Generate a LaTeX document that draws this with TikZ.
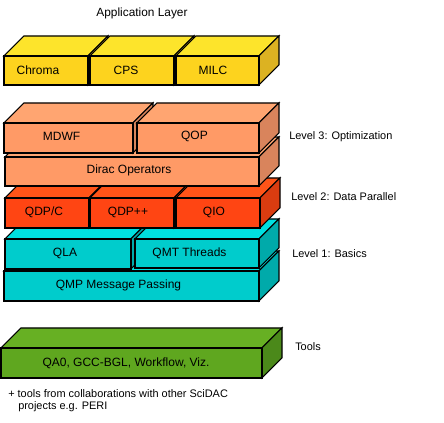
\documentclass[tikz,border=0pt]{standalone}
\usepackage{fontspec}
\setmainfont{Liberation Sans}
\definecolor{yelF}{HTML}{FDD31E}
\definecolor{yelT}{HTML}{FDE42B}
\definecolor{yelS}{HTML}{DCB222}
\definecolor{orgF}{HTML}{FF9A66}
\definecolor{orgT}{HTML}{FFA571}
\definecolor{orgS}{HTML}{D9845C}
\definecolor{redF}{HTML}{FF4513}
\definecolor{redT}{HTML}{FF5418}
\definecolor{redS}{HTML}{DA3C10}
\definecolor{cyaF}{HTML}{00CCCC}
\definecolor{cyaT}{HTML}{00E0E0}
\definecolor{cyaS}{HTML}{00AAAA}
\definecolor{grnF}{HTML}{5FA71F}
\definecolor{grnT}{HTML}{67B023}
\definecolor{grnS}{HTML}{4B891A}
\tikzset{
  edge/.style={draw=black,line width=0.8pt,line join=miter},
  lbl/.style={font=\fontsize{9}{10}\selectfont,inner sep=0pt},
  side/.style={font=\fontsize{8.2}{9}\selectfont,inner sep=0pt,anchor=west}
}
\newcommand\layerbox[5]{%
  \filldraw[edge,fill=#5T] (#1,#2) -- (#1+20,#2-20) -- (#3+20,#2-20) -- (#3,#2) -- cycle;
  \filldraw[edge,fill=#5S] (#3,#2) -- (#3+20,#2-20) -- (#3+20,#4-20) -- (#3,#4) -- cycle;
  \filldraw[edge,fill=#5F] (#1,#2) rectangle (#3,#4);
}
\begin{document}
\begin{tikzpicture}[x=0.75pt,y=-0.75pt]
\useasboundingbox (0,0) rectangle (444,423);
% title
\node[lbl,font=\fontsize{8.9}{10}\selectfont] (app) at (142,13) {Application Layer};
% application layer
\layerbox{4}{56}{88}{85}{yel}
\layerbox{90}{56}{174}{85}{yel}
\layerbox{176}{56}{259}{85}{yel}
\node[lbl] (chroma) at (38,70) {Chroma};
\node[lbl] (cps) at (126,70) {CPS};
\node[lbl] (milc) at (213,70) {MILC};
% level 1
\layerbox{4}{271}{259}{301}{cya}
\layerbox{5}{239}{131}{269}{cya}
\layerbox{135}{239}{259}{268}{cya}
\node[lbl] (qmp) at (118.5,285) {QMP Message Passing};
\node[lbl] (qla) at (65,253) {QLA};
\node[lbl] (qmt) at (189.5,253) {QMT Threads};
% level 2
\layerbox{5}{198}{89}{228}{red}
\layerbox{90}{198}{174}{228}{red}
\layerbox{176}{198}{260}{228}{red}
\node[lbl] (qdpc) at (44,212) {QDP/C};
\node[lbl] (qdppp) at (128,212) {QDP++};
\node[lbl] (qio) at (214,212) {QIO};
% level 3
\layerbox{5}{157}{259}{186}{org}
\layerbox{4}{123}{133}{153}{org}
\layerbox{137}{123}{259}{153}{org}
\node[lbl] (dirac) at (129,170) {Dirac Operators};
\node[lbl] (mdwf) at (61.5,136) {MDWF};
\node[lbl] (qop) at (194.5,136) {QOP};
% tools
\layerbox{1}{348}{262}{378}{grn}
\node[lbl] (tools) at (126,363) {QA0, GCC-BGL, Workflow, Viz.};
% side labels
\node[side] (l3) at (289,137) {Level 3: Optimization};
\node[side] (l2) at (291,197) {Level 2: Data Parallel};
\node[side] (l1) at (292,254) {Level 1: Basics};
\node[side] (tl) at (295,347) {Tools};
\node[side,anchor=north west,align=left] (note) at (8,389) {+ tools from collaborations with other SciDAC\\\hspace*{7.5pt}projects e.g. PERI};
\end{tikzpicture}
\end{document}
